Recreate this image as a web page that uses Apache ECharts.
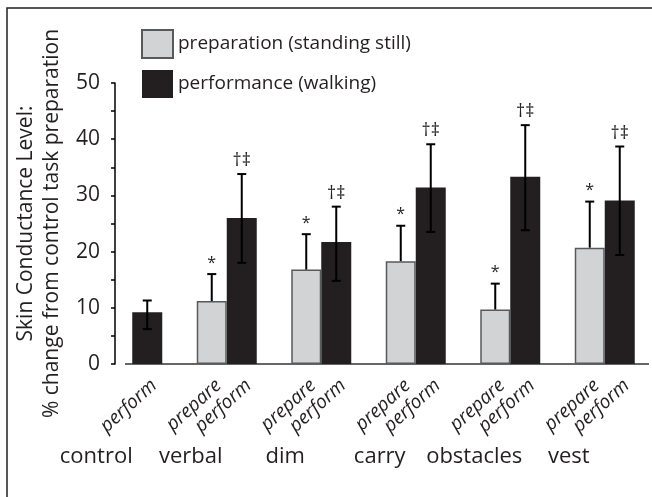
<!DOCTYPE html>
<html>
<head>
<meta charset="utf-8">
<script src="https://cdn.jsdelivr.net/npm/echarts@6/dist/echarts.min.js"></script>
<style>
html,body{margin:0;padding:0;background:#fff;}
#chart{width:652px;height:497px;}
</style>
</head>
<body>
<div id="chart"></div>
<script>
// ---- data ----
var categories = ['control', 'verbal', 'dim', 'carry', 'obstacles', 'vest'];
var prepareValues = [null, 11.2, 16.8, 18.3, 9.7, 20.7];
var prepareErrHigh = [null, 16.0, 23.1, 24.6, 14.3, 28.9];
var performValues = [9.2, 26.0, 21.7, 31.4, 33.3, 29.1];
var performErrLow = [6.2, 18.0, 14.8, 23.5, 23.8, 19.4];
var performErrHigh = [11.3, 33.8, 28.0, 39.1, 42.5, 38.7];
var prepareMarks = ['', '*', '*', '*', '*', '*'];
var performMarks = ['', '†‡', '†‡', '†‡', '†‡', '†‡'];
var yTicks = [0, 10, 20, 30, 40, 50];
var seriesNames = ['preparation (standing still)', 'performance (walking)'];
var barLabels = ['prepare', 'perform'];

var FONT = '"Open Sans", sans-serif';
var TXT = '#231f20';
var BARW = 30;

function errSeries(values, lows, highs, marks, side, labelText) {
  return {
    type: 'custom',
    z: 10,
    silent: true,
    data: categories.map(function (c, i) {
      return [i, values[i], lows[i], highs[i]];
    }),
    renderItem: function (params, api) {
      var idx = api.value(0);
      var v = api.value(1);
      if (isNaN(v)) return null;
      var lo = api.value(2);
      var hi = api.value(3);
      var base = api.coord([idx, 0]);
      var pv = api.coord([idx, v]);
      var ph = api.coord([idx, hi]);
      var x = base[0] + side * BARW / 2;
      var yLow = isNaN(lo) ? pv[1] : api.coord([idx, lo])[1];
      var ls = { stroke: '#000', lineWidth: 2 };
      var children = [
        { type: 'line', shape: { x1: x, y1: yLow, x2: x, y2: ph[1] }, style: ls },
        { type: 'line', shape: { x1: x - 4.5, y1: ph[1], x2: x + 4.5, y2: ph[1] }, style: ls }
      ];
      if (!isNaN(lo)) {
        children.push({ type: 'line', shape: { x1: x - 4.5, y1: yLow, x2: x + 4.5, y2: yLow }, style: ls });
      }
      var mk = marks[idx];
      if (mk) {
        children.push({
          type: 'text',
          x: x, y: ph[1] - (mk === '*' ? 3 : 4),
          style: { text: mk, fill: TXT, font: (mk === '*' ? '16px ' : '18px ') + FONT, align: 'center', verticalAlign: 'bottom' }
        });
      }
      children.push({
        type: 'text',
        x: x + 7, y: base[1] + 19,
        rotation: 42 * Math.PI / 180,
        style: { text: labelText, fill: TXT, font: 'italic 19px ' + FONT, align: 'right', verticalAlign: 'middle' }
      });
      return { type: 'group', children: children };
    }
  };
}

var chart = echarts.init(document.getElementById('chart'), null, { renderer: 'canvas' });
var option = {
  backgroundColor: '#fff',
  animation: false,
  textStyle: { fontFamily: FONT, color: TXT },
  legend: {
    data: seriesNames,
    orient: 'vertical',
    left: 136, top: 24,
    icon: 'rect',
    itemWidth: 31, itemHeight: 28, itemGap: 11,
    textStyle: { fontSize: 19, color: TXT, fontFamily: FONT },
    selectedMode: false
  },
  grid: { left: 85, right: 0, top: 83, bottom: 133, containLabel: false },
  xAxis: {
    type: 'category',
    data: categories,
    axisLine: { show: false },
    axisTick: { show: false },
    axisLabel: { fontSize: 22, color: TXT, fontFamily: FONT, margin: 82, padding: [0, 72, 0, 0], interval: 0 }
  },
  yAxis: {
    type: 'value',
    min: 0, max: 50, interval: 10,
    offset: -30,
    name: 'Skin Conductance Level:\n% change from control task preparation',
    nameLocation: 'middle',
    nameGap: 49,
    nameTextStyle: { fontSize: 21, color: TXT, fontFamily: FONT, lineHeight: 26 },
    axisLine: { show: true, lineStyle: { color: '#000', width: 1.5 } },
    axisTick: { show: true, length: 4, lineStyle: { color: '#000', width: 1.5 } },
    minorTick: { show: true, splitNumber: 2, length: 4, lineStyle: { color: '#000', width: 1.5 } },
    splitLine: { show: false },
    axisLabel: { fontSize: 21, color: TXT, fontFamily: FONT, margin: 15,
      formatter: function (v) { return yTicks.indexOf(v) >= 0 ? String(v) : ''; } }
  },
  series: [
    {
      name: seriesNames[0], type: 'bar', data: prepareValues, barWidth: BARW, barGap: '0%',
      itemStyle: { color: '#d1d3d4', borderColor: '#58595b', borderWidth: 1.5 }, z: 5
    },
    {
      name: seriesNames[1], type: 'bar', data: performValues, barWidth: BARW, barGap: '0%',
      itemStyle: { color: '#231f20' }, z: 4
    },
    errSeries(prepareValues, prepareValues.map(function () { return null; }), prepareErrHigh, prepareMarks, -1, barLabels[0]),
    errSeries(performValues, performErrLow, performErrHigh, performMarks, 1, barLabels[1])
  ],
  graphic: [
    { type: 'polyline', shape: { points: [[7, 497], [7, 8], [652, 8]] }, style: { stroke: '#231f20', lineWidth: 1.5, fill: null } },
    { type: 'line', shape: { x1: 125, y1: 364, x2: 649, y2: 364 }, style: { stroke: '#333', lineWidth: 1.5 } }
  ]
};
chart.setOption(option);
</script>
</body>
</html>
